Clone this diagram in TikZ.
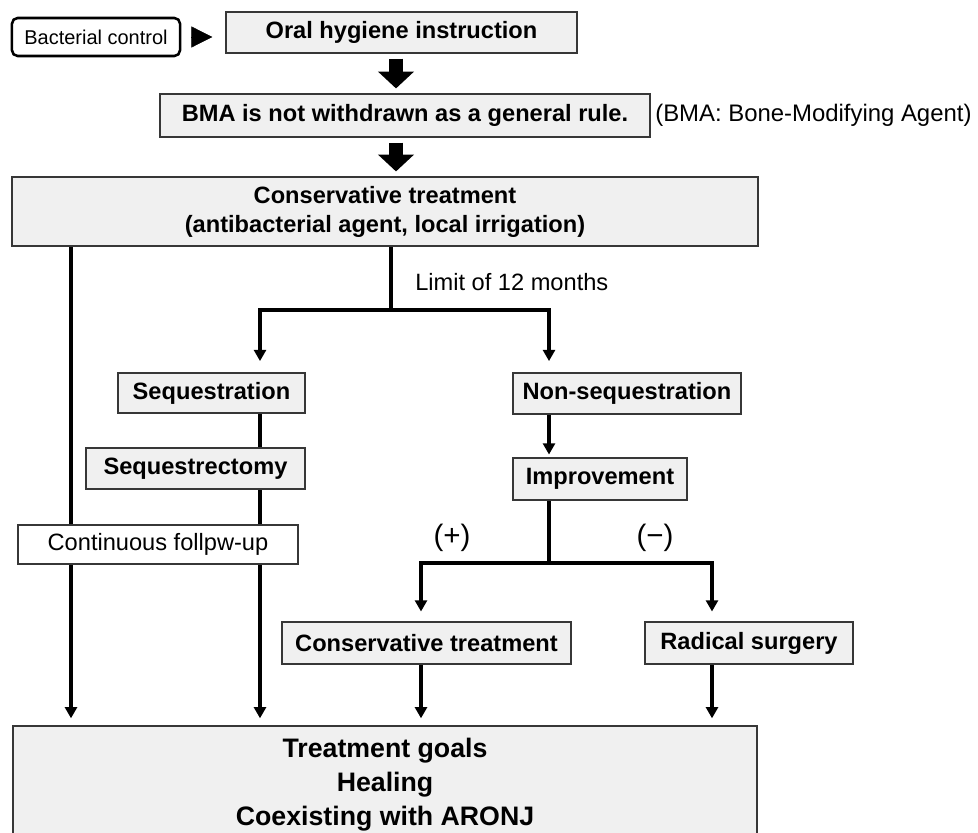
\documentclass[tikz,border=0pt]{standalone}
\usepackage{fontspec}
\setmainfont{Liberation Sans}
\usetikzlibrary{arrows.meta, backgrounds}
\definecolor{boxgray}{RGB}{240,240,240}
\definecolor{edgegray}{RGB}{55,55,55}

\begin{document}
\begin{tikzpicture}[x=0.025cm, y=-0.025cm,
    wh/.style 2 args={minimum width=#1*0.7113pt, minimum height=#2*0.7113pt},
    txt/.style={font=\fontsize{16.8}{20.6}\selectfont},
    box/.style={draw=edgegray, line width=0.9pt, fill=boxgray, inner sep=0pt, align=center,
      font=\fontsize{16.8}{20.6}\selectfont\bfseries},
    plainbox/.style={box, fill=white, font=\fontsize{16.8}{20.6}\selectfont},
    startbox/.style={draw=black, line width=1.8pt, rounded corners=4pt, fill=white, inner sep=0pt,
      font=\fontsize{14.2}{17}\selectfont},
    line/.style={line width=2.7pt},
    link/.style={line, -{Triangle[width=8.5pt,length=8pt]}},
    fatlink/.style={line width=9.3pt, -{Triangle[width=25pt,length=12pt]}, shorten <=3.5pt, shorten >=3.5pt}]
  \useasboundingbox (0,0) rectangle (978,833);
  \node[startbox, wh={168}{38}] (bact) at (96,37) {Bacterial control};
  \node[box, wh={351}{41}] (oral) at (401.5,32.5) {Oral hygiene instruction};
  \node[box, wh={490}{43}] (bma) at (405,115.5) {BMA is not withdrawn as a general rule.};
  \node[font=\fontsize{17}{21}\selectfont, anchor=west, inner sep=0pt] (bmanote) at (655,115) {(BMA: Bone-Modifying Agent)};
  \node[box, wh={746}{69}] (cons) at (385,211.5) {Conservative treatment\\(antibacterial agent, local irrigation)};
  \node[txt, anchor=west, inner sep=0pt] (limit) at (415,282) {Limit of 12 months};
  \node[box, wh={187}{40}] (seq) at (211.5,393) {Sequestration};
  \node[box, wh={219}{41}] (sqx) at (195.5,468.5) {Sequestrectomy};
  \node[plainbox, wh={280}{39}] (follow) at (158,544.5) {Continuous follpw-up};
  \node[box, wh={228}{41}] (nonseq) at (627,393.5) {Non-sequestration};
  \node[box, wh={174}{42}] (impr) at (600,479) {Improvement};
  \node[font=\fontsize{21}{24}\selectfont, inner sep=0pt] (plus) at (452,538) {(+)};
  \node[font=\fontsize{21}{24}\selectfont, inner sep=0pt] (minus) at (655,538) {(−)};
  \node[box, wh={289}{42}] (consb) at (426.5,643) {Conservative treatment};
  \node[box, wh={208}{42}] (rad) at (749,643) {Radical surgery};
  \node[box, wh={744}{118}, font=\fontsize{19}{24.2}\selectfont\bfseries] (goal) at (385,785)
    {Treatment goals\\Healing\\Coexisting with ARONJ};
  \coordinate (xa) at (71,0);
  \coordinate (xb) at (260,0);
  \coordinate (xm) at (396,0);
  \coordinate (xc) at (549,0);
  \coordinate (xd) at (421,0);
  \coordinate (xe) at (712,0);
  \coordinate (fork1) at (391,310);
  \coordinate (fork2) at (549,563);
  \begin{pgfonlayer}{background}
    \draw[-{Triangle[width=15pt,length=15pt]}, shorten <=8.5pt, shorten >=9.2pt] (bact.east) -- (oral.west |- bact.east);
    \draw[fatlink] (oral.south -| xm) -- (bma.north -| xm);
    \draw[fatlink] (bma.south -| xm) -- (cons.north -| xm);
    \draw[link, shorten >=5pt] (cons.south -| xa) -- (goal.north -| xa);
    \draw[line] (cons.south -| fork1) -- (fork1);
    \draw[link, shorten >=8pt] (fork1) -| (seq.north -| xb);
    \draw[link, shorten >=8pt] (fork1) -| (nonseq.north -| xc);
    \draw[line] (seq.south -| xb) -- (sqx.north -| xb);
    \draw[link, shorten >=5pt] (sqx.south -| xb) -- (goal.north -| xb);
    \draw[link, shorten >=2pt] (nonseq.south -| xc) -- (impr.north -| xc);
    \draw[line] (impr.south -| xc) -- (fork2);
    \draw[link, shorten >=7pt] (fork2) -| (consb.north -| xd);
    \draw[link, shorten >=7pt] (fork2) -| (rad.north -| xe);
    \draw[link, shorten >=5pt] (consb.south -| xd) -- (goal.north -| xd);
    \draw[link, shorten >=5pt] (rad.south -| xe) -- (goal.north -| xe);
  \end{pgfonlayer}
\end{tikzpicture}
\end{document}
